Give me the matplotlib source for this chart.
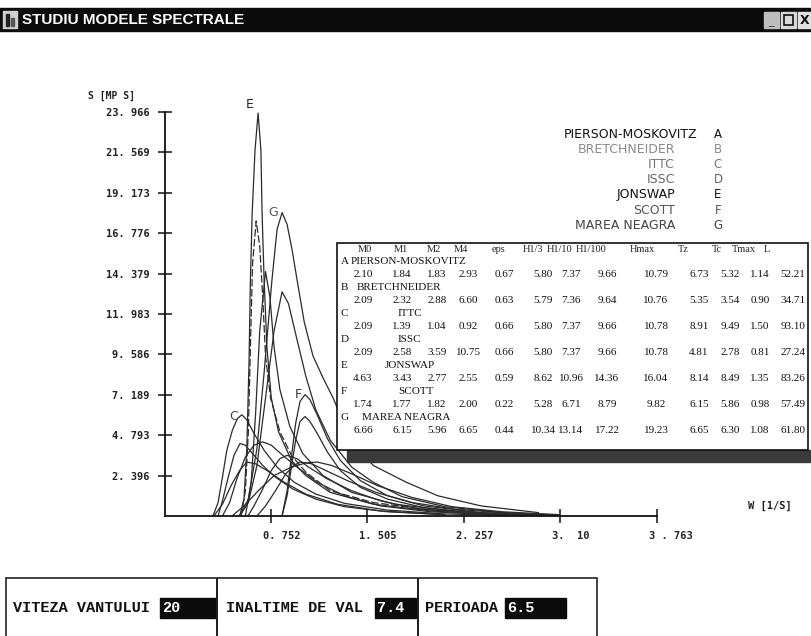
import matplotlib
matplotlib.use('Agg')
import matplotlib.pyplot as plt
from matplotlib.patches import Rectangle
from matplotlib import transforms

# ---- data ----
y_ticks = [2.3966, 4.7932, 7.1898, 9.5864, 11.983, 14.3796, 16.7762, 19.1728, 21.5694, 23.966]
y_labels = ['2. 396', '4. 793', '7. 189', '9. 586', '11. 983', '14. 379',
            '16. 776', '19. 173', '21. 569', '23. 966']
x_ticks = [0.7526, 1.5052, 2.2578, 3.0104, 3.763]
x_labels = ['0. 752', '1. 505', '2. 257', '3.  10', '3 . 763']

# spectra (w [1/s], S) traced by eye
e1_w = [0.508, 0.542, 0.564, 0.581, 0.592, 0.606, 0.628, 0.652, 0.674, 0.683, 0.699, 0.721, 0.755, 0.811, 0.912, 1.024, 1.214, 1.55, 1.998, 2.502, 3.0]
e1_s = [0, 1, 4, 9, 14, 18, 21.7, 23.9, 21.7, 18, 14, 10, 7, 5, 3.3, 2.4, 1.4, 0.7, 0.3, 0.1, 0]
e2_w = [0.52, 0.553, 0.576, 0.592, 0.609, 0.637, 0.665, 0.688, 0.71, 0.749, 0.822, 0.912, 1.024, 1.214, 1.55, 1.998, 2.502, 3.0]
e2_s = [0, 1.5, 5, 10, 15, 17.5, 16, 13, 9.5, 7, 5, 3.6, 2.6, 1.5, 0.8, 0.35, 0.1, 0]
e3_w = [0.553, 0.598, 0.632, 0.665, 0.71, 0.744, 0.777, 0.822, 0.9, 1.001, 1.158, 1.382, 1.718, 2.166, 2.6, 3.0]
e3_s = [0, 2, 6, 11, 14.5, 13, 10, 7.5, 5.3, 3.7, 2.4, 1.4, 0.7, 0.3, 0.1, 0]
g1_w = [0.508, 0.576, 0.643, 0.699, 0.76, 0.8, 0.839, 0.878, 0.917, 0.956, 1.012, 1.08, 1.158, 1.237, 1.326, 1.393, 1.55, 1.808, 2.054, 2.39, 2.838]
g1_s = [0, 1, 4, 8.5, 14, 17, 18, 17.3, 15.8, 14, 11.5, 9.5, 8.2, 7, 5.4, 4.3, 3.0, 2.0, 1.2, 0.6, 0.2]
g2_w = [0.508, 0.576, 0.643, 0.71, 0.777, 0.839, 0.889, 0.945, 1.024, 1.102, 1.214, 1.382, 1.55, 1.774, 2.11, 2.558, 3.0]
g2_s = [0, 0.8, 3, 7, 11, 13.3, 12.6, 10.8, 8.3, 6.3, 4.5, 2.9, 2.0, 1.15, 0.55, 0.2, 0.05]
f1_w = [0.839, 0.878, 0.912, 0.945, 0.979, 1.018, 1.057, 1.113, 1.192, 1.293, 1.449, 1.662, 1.942, 2.39, 2.95]
f1_s = [0, 1.5, 3.5, 5.5, 6.8, 7.2, 6.9, 6, 4.6, 3.3, 2.1, 1.2, 0.6, 0.2, 0.05]
f2_w = [0.839, 0.878, 0.912, 0.945, 0.979, 1.018, 1.057, 1.113, 1.192, 1.293, 1.449, 1.662, 1.942, 2.39, 2.95]
f2_s = [0, 1.2, 2.9, 4.5, 5.6, 5.9, 5.6, 4.9, 3.8, 2.7, 1.7, 1.0, 0.5, 0.15, 0.03]
c1_w = [0.3, 0.34, 0.374, 0.408, 0.452, 0.492, 0.526, 0.564, 0.62, 0.699, 0.8, 0.934, 1.102, 1.326, 1.662, 2.11, 2.614]
c1_s = [0, 0.8, 2.3, 3.9, 5.1, 5.8, 6.0, 5.7, 4.9, 3.9, 2.9, 2.0, 1.3, 0.75, 0.35, 0.12, 0.03]
c2_w = [0.34, 0.374, 0.419, 0.464, 0.511, 0.553, 0.609, 0.688, 0.788, 0.923, 1.102, 1.326, 1.662, 2.11]
c2_s = [0, 0.9, 2.3, 3.6, 4.3, 4.2, 3.7, 3.0, 2.3, 1.6, 1.0, 0.55, 0.25, 0.08]
d1_w = [0.374, 0.43, 0.486, 0.553, 0.62, 0.688, 0.755, 0.844, 0.956, 1.113, 1.326, 1.606, 1.998, 2.446]
d1_s = [0, 0.8, 2.2, 3.5, 4.2, 4.4, 4.2, 3.6, 2.9, 2.0, 1.2, 0.6, 0.25, 0.08]
d2_w = [0.573, 0.62, 0.688, 0.755, 0.822, 0.878, 0.956, 1.046, 1.192, 1.382, 1.606, 1.886, 2.334, 2.782]
d2_s = [0, 0.6, 1.6, 2.7, 3.4, 3.6, 3.4, 2.9, 2.2, 1.5, 0.9, 0.45, 0.15, 0.05]
d3_w = [0.643, 0.71, 0.788, 0.867, 0.934, 0.979, 1.068, 1.18, 1.348, 1.572, 1.852, 2.189, 2.637, 3.0]
d3_s = [0, 0.6, 1.5, 2.5, 3.0, 3.2, 3.1, 2.7, 2.1, 1.4, 0.8, 0.4, 0.15, 0.05]
d4_w = [0.449, 0.542, 0.654, 0.777, 0.912, 1.024, 1.113, 1.225, 1.382, 1.584, 1.852, 2.166, 2.558, 3.0]
d4_s = [0, 0.6, 1.5, 2.4, 2.9, 3.15, 3.2, 3.0, 2.5, 1.8, 1.1, 0.55, 0.25, 0.08]
d5_w = [0.307, 0.374, 0.441, 0.508, 0.564, 0.632, 0.721, 0.856, 1.024, 1.27, 1.606, 2.054]
d5_s = [0, 0.7, 1.8, 2.7, 3.2, 3.1, 2.7, 2.0, 1.3, 0.7, 0.3, 0.1]

legend_names = ['PIERSON-MOSKOVITZ', 'BRETCHNEIDER', 'ITTC', 'ISSC', 'JONSWAP', 'SCOTT', 'MAREA NEAGRA']
legend_letters = ['A', 'B', 'C', 'D', 'E', 'F', 'G']
legend_colors = ['#111111', '#8a8a8a', '#777777', '#666666', '#111111', '#555555', '#444444']

table_cols = ['M0', 'M1', 'M2', 'M4', 'eps', 'H1/3', 'H1/10', 'H1/100', 'Hmax', 'Tz', 'Tc', 'Tmax', 'L']
table_vals = [
    ['2.10', '1.84', '1.83', '2.93', '0.67', '5.80', '7.37', '9.66', '10.79', '6.73', '5.32', '1.14', '52.21'],
    ['2.09', '2.32', '2.88', '6.60', '0.63', '5.79', '7.36', '9.64', '10.76', '5.35', '3.54', '0.90', '34.71'],
    ['2.09', '1.39', '1.04', '0.92', '0.66', '5.80', '7.37', '9.66', '10.78', '8.91', '9.49', '1.50', '93.10'],
    ['2.09', '2.58', '3.59', '10.75', '0.66', '5.80', '7.37', '9.66', '10.78', '4.81', '2.78', '0.81', '27.24'],
    ['4.63', '3.43', '2.77', '2.55', '0.59', '8.62', '10.96', '14.36', '16.04', '8.14', '8.49', '1.35', '83.26'],
    ['1.74', '1.77', '1.82', '2.00', '0.22', '5.28', '6.71', '8.79', '9.82', '6.15', '5.86', '0.98', '57.49'],
    ['6.66', '6.15', '5.96', '6.65', '0.44', '10.34', '13.14', '17.22', '19.23', '6.65', '6.30', '1.08', '61.80'],
]

input_labels = ['VITEZA VANTULUI', 'INALTIME DE VAL', 'PERIOADA']
input_values = ['20', '7.4', '6.5']

# ---- figure ----
W, H = 812, 636
fig = plt.figure(figsize=(W / 100, H / 100), dpi=100)


def fx(x):
    return x / W


def fy(y):
    return 1 - y / H


def box(x0, y0, x1, y1, **kw):
    fig.patches.append(Rectangle((fx(x0), fy(y1)), fx(x1) - fx(x0), fy(y0) - fy(y1),
                                 transform=fig.transFigure, **kw))


mono = 'DejaVu Sans Mono'

# title bar
box(0, 8, W, 31, color='#0b0b0b')
box(3, 11, 17, 28, color='#d0d0d0')
box(6, 14, 9, 26, color='#222222')
box(11, 18, 14, 26, color='#555555')
fig.text(fx(22), fy(20), 'STUDIU MODELE SPECTRALE', color='white', fontsize=11,
         fontweight='bold', va='center', family=['Liberation Sans Narrow', 'Liberation Sans'])
box(764, 12, 779, 28, color='#bdbdbd')
fig.text(fx(771), fy(22), '_', fontsize=8, ha='center', va='center', color='#333333')
box(781, 12, 796, 28, color='#d8d8d8')
box(784, 15, 793, 25, fill=False, ec='#111111', lw=1.2)
box(798, 12, 812, 28, color='#e0e0e0')
fig.text(fx(805), fy(20), 'X', fontsize=9, fontweight='bold', ha='center', va='center', color='#111111')

# plot area: y axis at x=165 px, w=0 a little to its right, w=3.763 at 657 px
ax = fig.add_axes([fx(165), fy(516), fx(657) - fx(165), fy(112) - fy(516)])
ax.set_facecolor('none')
curves = [(e1_w, e1_s, '-'), (e2_w, e2_s, (0, (6, 2))), (e3_w, e3_s, '-'),
          (g1_w, g1_s, '-'), (g2_w, g2_s, '-'), (f1_w, f1_s, '-'), (f2_w, f2_s, '-'),
          (c1_w, c1_s, '-'), (c2_w, c2_s, '-'), (d1_w, d1_s, '-'), (d2_w, d2_s, '-'),
          (d3_w, d3_s, '-'), (d4_w, d4_s, '-'), (d5_w, d5_s, '-')]
for w, s, ls in curves:
    ax.plot(w, s, color='#2b2b2b', lw=0.9, ls=ls)

ax.set_xlim(-0.074, 3.763)
ax.set_ylim(0, 23.966)
for side in ['top', 'right']:
    ax.spines[side].set_visible(False)
for side in ['left', 'bottom']:
    ax.spines[side].set_linewidth(1.3)
    ax.spines[side].set_color('#111111')
ax.set_yticks(y_ticks, labels=y_labels)
ax.set_xticks(x_ticks, labels=x_labels)
ax.tick_params(direction='inout', length=10, width=1.1, colors='#111111', labelsize=7.5, pad=6)
for lbl in ax.get_yticklabels() + ax.get_xticklabels():
    lbl.set_family(mono)
    lbl.set_fontweight('bold')
    lbl.set_color('#222222')
shift = transforms.ScaledTranslation(-0.08, 0, fig.dpi_scale_trans)
for lbl in ax.get_xticklabels():
    lbl.set_ha('left')
    lbl.set_transform(lbl.get_transform() + shift)

fig.text(fx(88), fy(96), 'S [MP S]', family=mono, fontweight='bold', fontsize=7, va='center', color='#222222')
fig.text(fx(748), fy(506), 'W [1/S]', family=mono, fontweight='bold', fontsize=7.5, va='center', color='#222222')

# curve letters
ax.text(0.589, 24.4, 'E', fontsize=9, color='#222222', ha='center', va='center')
ax.text(0.768, 18.0, 'G', fontsize=9, color='#555555', ha='center', va='center')
ax.text(0.963, 7.2, 'F', fontsize=9, color='#333333', ha='center', va='center')
ax.text(0.464, 5.9, 'C', fontsize=9, color='#444444', ha='center', va='center')

# legend list
for i, (name, letter, col) in enumerate(zip(legend_names, legend_letters, legend_colors)):
    y = 134 + i * 15.2
    xr = 697 if i == 0 else 675
    fig.text(fx(xr), fy(y), name, fontsize=9, ha='right', va='center', color=col, family='DejaVu Sans')
    fig.text(fx(718), fy(y), letter, fontsize=8.5, ha='center', va='center', color=col, family='DejaVu Sans')

# table with shadow
box(347, 450, 810, 462, color='#3a3a3a')
box(337, 243, 808, 450, facecolor='white', edgecolor='#111111', lw=1.2)
hdr_x = [365, 401, 434, 461, 499, 533, 560, 591, 642, 683, 717, 744, 767]
col_x = [363, 402, 437, 468, 504, 543, 571, 607, 656, 699, 730, 760, 793]
name_x = [351, 357, 398, 398, 385, 398, 362]
serif = 'Liberation Serif'
for c, xc in zip(table_cols, hdr_x):
    fig.text(fx(xc), fy(249), c, fontsize=7.5, ha='center', va='center', family=serif, color='#222222')
for i, (letter, name, vals) in enumerate(zip(legend_letters, legend_names, table_vals)):
    y_name = 249 + 12.95 * (2 * i + 1)
    y_vals = 249 + 12.95 * (2 * i + 2)
    fig.text(fx(341), fy(y_name), letter, fontsize=8, ha='left', va='center', family=serif, color='#111111')
    fig.text(fx(name_x[i]), fy(y_name), name, fontsize=8, ha='left', va='center', family=serif, color='#111111')
    for v, xc in zip(vals, col_x):
        fig.text(fx(xc), fy(y_vals), v, fontsize=8, ha='center', va='center', family=serif, color='#111111')

# input fields at the bottom
box(6, 578, 597, 640, fill=False, ec='#222222', lw=1.2)
for xd in [217, 418]:
    box(xd, 578, xd, 640, fill=False, ec='#222222', lw=1.2)
lab_x = [13, 226, 425]
hl = [(160, 215), (375, 416), (505, 566)]
for lab, val, x0, (h0, h1) in zip(input_labels, input_values, lab_x, hl):
    box(h0, 598, h1, 618, color='#0b0b0b')
    fig.text(fx(x0), fy(608), lab, fontsize=11, fontweight='bold', family='Liberation Mono',
             va='center', color='#111111')
    fig.text(fx(h0 + 2), fy(608), val, fontsize=11, fontweight='bold', family='Liberation Mono',
             va='center', color='white')

fig.savefig('out.png', dpi=100)
